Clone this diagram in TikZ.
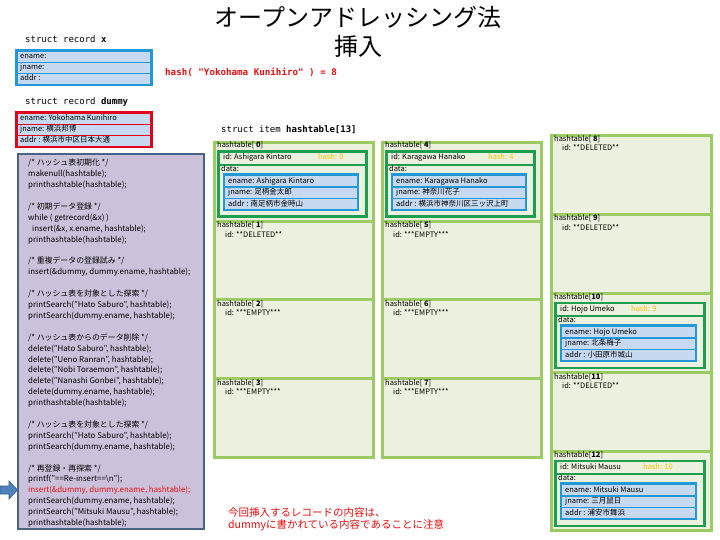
\documentclass[tikz,border=0pt]{standalone}
\usepackage{fontspec}
\setmainfont{Noto Sans CJK JP}
\newfontfamily\monof{DejaVu Sans Mono}
\definecolor{cellfill}{HTML}{EBF1DE}
\definecolor{cellline}{HTML}{9BCB62}
\definecolor{dgreen}{HTML}{1E9E50}
\definecolor{rblue}{HTML}{2398D6}
\definecolor{rowfill}{HTML}{C6D9F1}
\definecolor{codefill}{HTML}{CCC1DA}
\definecolor{codeline}{HTML}{4A6385}
\definecolor{hashc}{HTML}{FFC000}
\definecolor{redt}{HTML}{E01010}
\definecolor{redb}{HTML}{E0001B}
\definecolor{arrowc}{HTML}{4F81BD}
\definecolor{arrowd}{HTML}{385D8A}
\tikzset{
  cellbox/.style={draw=cellline, fill=cellfill, line width=3pt, anchor=north west, inner sep=0, minimum height=79},
  gbox/.style={draw=dgreen, fill=cellfill, line width=2.5pt, anchor=north west, inner sep=0},
  bbox/.style={fill=rblue, anchor=north west, inner sep=0},
  rowbox/.style={fill=rowfill, anchor=north west, inner sep=0},
  lbl/.style={anchor=west, inner sep=0, font=\fontsize{7.5}{9}\selectfont, text height=5.5pt, text depth=1.5pt},
  monolbl/.style={anchor=west, inner sep=0, font=\monof\fontsize{9}{10}\selectfont},
}
\newcommand\EmptyCell[6]{%
  \node[cellbox, minimum width=#4] (#1) at (#2,#3) {};
  \node[lbl] (#1-h) at (#2+4,#3+6) {hashtable[#5]};
  \node[lbl] (#1-i) at (#2+12,#3+15) {id: #6};
}
\newcommand\OccCell[8]{%
  \node[cellbox, minimum width=#4] (#1) at (#2,#3) {};
  \node[lbl] (#1-h) at (#2+4,#3+5) {hashtable[#5]};
  \node[gbox, minimum width=#4-11, minimum height=65] (#1-g) at (#2+4,#3+9.5) {};
  \draw[dgreen, line width=2.5pt] (#2+4,#3+24) -- (#2+#4-7,#3+24);
  \node[lbl] (#1-i) at (#2+10,#3+17) {id: #6};
  \node[lbl, text=hashc] (#1-k) at (#2+#7,#3+17) {hash: #8};
  \node[lbl] (#1-d) at (#2+8,#3+28.5) {data:};
}
\newcommand\OccData[7]{%
  \node[bbox, minimum width=#4-23, minimum height=38] (#1-b) at (#2+10,#3+32) {};
  \node[rowbox, minimum width=#4-27, minimum height=10] (#1-r1) at (#2+12,#3+35) {};
  \node[rowbox, minimum width=#4-27, minimum height=10] (#1-r2) at (#2+12,#3+46.5) {};
  \node[rowbox, minimum width=#4-27, minimum height=10] (#1-r3) at (#2+12,#3+58) {};
  \node[lbl, xshift=3pt] (#1-e) at (#1-r1.west) {ename: #5};
  \node[lbl, xshift=3pt] (#1-j) at (#1-r2.west) {jname: #6};
  \node[lbl, xshift=3pt] (#1-a) at (#1-r3.west) {addr : #7};
}
\begin{document}
\begin{tikzpicture}[x=1pt, y=-1pt]
\useasboundingbox[fill=white] (0,0) rectangle (720,540);

% title
\node[font=\fontsize{24}{26}\selectfont, inner sep=0] (title) at (358,17) {オープンアドレッシング法};
\node[font=\fontsize{24}{26}\selectfont, inner sep=0] (title2) at (358,46) {挿入};

% struct record x
\node[monolbl] (sx) at (25,39) {struct record \textbf{x}};
\node[bbox, minimum width=138, minimum height=37] (rx) at (15,49) {};
\node[rowbox, minimum width=132, minimum height=9.5] (rx1) at (18,52) {};
\node[rowbox, minimum width=132, minimum height=9.5] (rx2) at (18,63) {};
\node[rowbox, minimum width=132, minimum height=9.5] (rx3) at (18,74) {};
\node[lbl, xshift=2pt] (rx1t) at (rx1.west) {ename:};
\node[lbl, xshift=2pt] (rx2t) at (rx2.west) {jname:};
\node[lbl, xshift=2pt] (rx3t) at (rx3.west) {addr :};

\node[monolbl, font=\monof\bfseries\fontsize{9.2}{10}\selectfont, text=redt] (hashx) at (165,72) {hash( "Yokohama Kunihiro" ) = 8};

% struct record dummy
\node[monolbl] (sd) at (25,102) {struct record \textbf{dummy}};
\node[fill=redb, anchor=north west, inner sep=0, minimum width=138, minimum height=37] (rd) at (15,111) {};
\node[rowbox, minimum width=132, minimum height=9.5] (rd1) at (18,114) {};
\node[rowbox, minimum width=132, minimum height=9.5] (rd2) at (18,125) {};
\node[rowbox, minimum width=132, minimum height=9.5] (rd3) at (18,136) {};
\node[lbl, xshift=2pt] (rd1t) at (rd1.west) {ename: Yokohama Kunihiro};
\node[lbl, xshift=2pt] (rd2t) at (rd2.west) {jname: 横浜邦博};
\node[lbl, xshift=2pt] (rd3t) at (rd3.west) {addr : 横浜市中区日本大通};

% code box
\node[draw=codeline, fill=codefill, line width=2pt, anchor=north west, inner sep=0, minimum width=186, minimum height=375] (code) at (17,153) {};
\node[anchor=north west, inner sep=0, align=left, font=\fontsize{7.9}{10.9}\selectfont] (codetxt) at (28,159) {%
/* ハッシュ表初期化 */\\
makenull(hashtable);\\
printhashtable(hashtable);\\[10.9pt]
/* 初期データ登録 */\\
while ( getrecord(\&x) )\\
\hspace{4pt}insert(\&x, x.ename, hashtable);\\
printhashtable(hashtable);\\[10.9pt]
/* 重複データの登録試み */\\
insert(\&dummy, dummy.ename, hashtable);\\[10.9pt]
/* ハッシュ表を対象とした探索 */\\
printSearch("Hato Saburo", hashtable);\\
printSearch(dummy.ename, hashtable);\\[10.9pt]
/* ハッシュ表からのデータ削除 */\\
delete("Hato Saburo", hashtable);\\
delete("Ueno Ranran", hashtable);\\
delete("Nobi Toraemon", hashtable);\\
delete("Nanashi Gonbei", hashtable);\\
delete(dummy.ename, hashtable);\\
printhashtable(hashtable);\\[10.9pt]
/* ハッシュ表を対象とした探索 */\\
printSearch("Hato Saburo", hashtable);\\
printSearch(dummy.ename, hashtable);\\[10.9pt]
/* 再登録・再探索 */\\
printf("==Re-insert==\textbackslash n");\\
\textcolor{redt}{insert(\&dummy, dummy.ename, hashtable);}\\
printSearch(dummy.ename, hashtable);\\
printSearch("Mitsuki Mausu", hashtable);\\
printhashtable(hashtable);};

% arrow
\filldraw[fill=arrowc, draw=arrowd, line width=0.6pt] (0,486) -- (9,486) -- (9,481) -- (17.5,490) -- (9,499) -- (9,494) -- (0,494) -- cycle;

% hash table
\node[monolbl] (sh) at (221,130) {struct item \textbf{hashtable[13]}};

% column 1
\OccCell{c0}{213}{141}{159}{\ \textbf{0}}{Ashigara Kintaro}{105}{0}
\OccData{c0}{213}{141}{159}{Ashigara Kintaro}{足柄金太郎}{南足柄市金時山}
\EmptyCell{c1}{213}{220}{159}{\ \textbf{1}}{**DELETED**}
\EmptyCell{c2}{213}{298}{159}{\ \textbf{2}}{***EMPTY***}
\EmptyCell{c3}{213}{377}{159}{\ \textbf{3}}{***EMPTY***}

% column 2
\OccCell{c4}{381}{141}{159}{\ \textbf{4}}{Karagawa Hanako}{107}{4}
\OccData{c4}{381}{141}{159}{Karagawa Hanako}{神奈川花子}{横浜市神奈川区三ッ沢上町}
\EmptyCell{c5}{381}{220}{159}{\ \textbf{5}}{***EMPTY***}
\EmptyCell{c6}{381}{298}{159}{\ \textbf{6}}{***EMPTY***}
\EmptyCell{c7}{381}{377}{159}{\ \textbf{7}}{***EMPTY***}

% column 3
\EmptyCell{c8}{550}{134}{160}{\ \textbf{8}}{**DELETED**}
\EmptyCell{c9}{550}{213}{160}{\ \textbf{9}}{**DELETED**}
\OccCell{c10}{550}{292}{160}{\textbf{10}}{Hojo Umeko}{81}{9}
\OccData{c10}{550}{292}{160}{Hojo Umeko}{北条梅子}{小田原市城山}
\EmptyCell{c11}{550}{371}{160}{\textbf{11}}{**DELETED**}
\OccCell{c12}{550}{450}{160}{\textbf{12}}{Mitsuki Mausu}{93}{10}
\OccData{c12}{550}{450}{160}{Mitsuki Mausu}{三月鼠日}{浦安市舞浜}

% note
\node[anchor=north west, inner sep=0, align=left, font=\fontsize{10.5}{12}\selectfont, text=redt] (note) at (228,507) {今回挿入するレコードの内容は、\\dummyに書かれている内容であることに注意};
\end{tikzpicture}
\end{document}
